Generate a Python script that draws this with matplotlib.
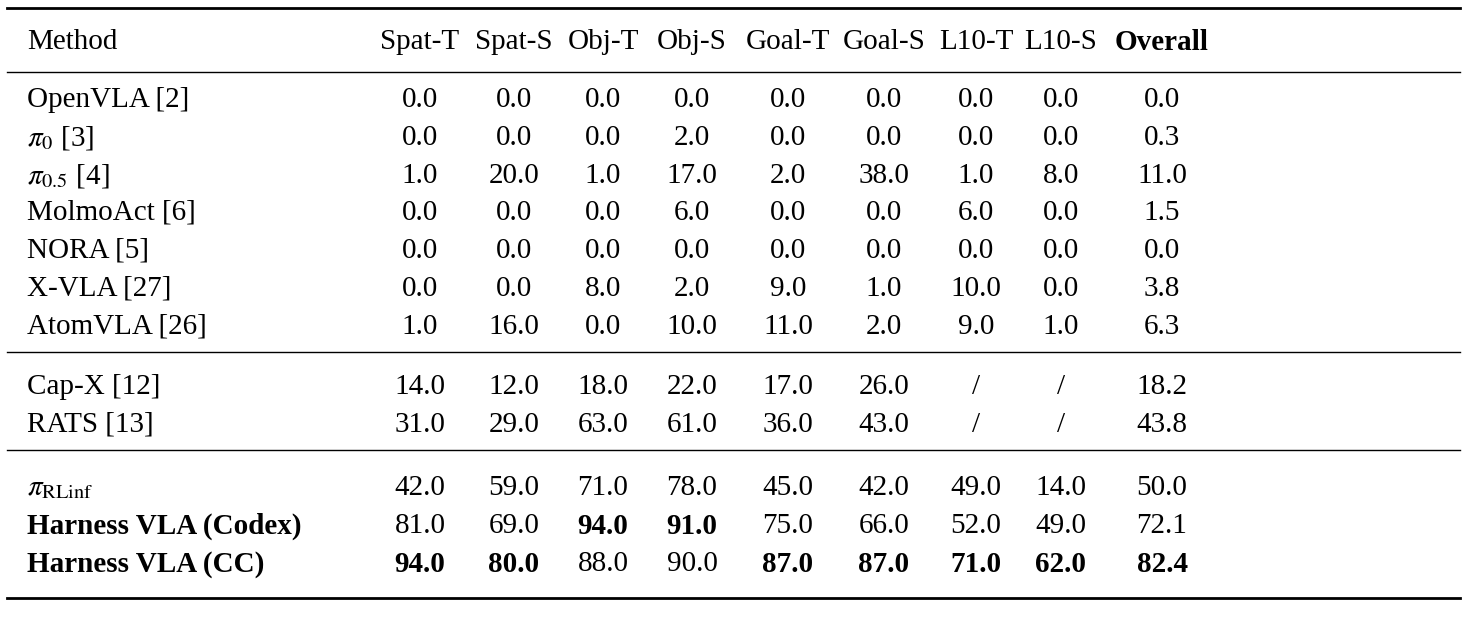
import matplotlib
matplotlib.use("Agg")
import matplotlib.pyplot as plt

plt.rcParams['font.family'] = ['Liberation Serif', 'DejaVu Serif']
plt.rcParams['mathtext.fontset'] = 'stix'

columns = ["Spat-T", "Spat-S", "Obj-T", "Obj-S", "Goal-T", "Goal-S", "L10-T", "L10-S", "Overall"]
methods = ["OpenVLA [2]", r"$\pi_0$ [3]", r"$\pi_{0.5}$ [4]", "MolmoAct [6]", "NORA [5]", "X-VLA [27]", "AtomVLA [26]",
           "Cap-X [12]", "RATS [13]",
           r"$\pi_{\mathrm{RLinf}}$", "Harness VLA (Codex)", "Harness VLA (CC)"]
values = [
    ["0.0", "0.0", "0.0", "0.0", "0.0", "0.0", "0.0", "0.0", "0.0"],
    ["0.0", "0.0", "0.0", "2.0", "0.0", "0.0", "0.0", "0.0", "0.3"],
    ["1.0", "20.0", "1.0", "17.0", "2.0", "38.0", "1.0", "8.0", "11.0"],
    ["0.0", "0.0", "0.0", "6.0", "0.0", "0.0", "6.0", "0.0", "1.5"],
    ["0.0", "0.0", "0.0", "0.0", "0.0", "0.0", "0.0", "0.0", "0.0"],
    ["0.0", "0.0", "8.0", "2.0", "9.0", "1.0", "10.0", "0.0", "3.8"],
    ["1.0", "16.0", "0.0", "10.0", "11.0", "2.0", "9.0", "1.0", "6.3"],
    ["14.0", "12.0", "18.0", "22.0", "17.0", "26.0", "/", "/", "18.2"],
    ["31.0", "29.0", "63.0", "61.0", "36.0", "43.0", "/", "/", "43.8"],
    ["42.0", "59.0", "71.0", "78.0", "45.0", "42.0", "49.0", "14.0", "50.0"],
    ["81.0", "69.0", "94.0", "91.0", "75.0", "66.0", "52.0", "49.0", "72.1"],
    ["94.0", "80.0", "88.0", "90.0", "87.0", "87.0", "71.0", "62.0", "82.4"],
]
bold_cells = {(10, 2), (10, 3), (11, 0), (11, 1), (11, 4), (11, 5), (11, 6), (11, 7), (11, 8)}
bold_methods = {10, 11}

W, H = 1467, 636
fig = plt.figure(figsize=(W / 100, H / 100), dpi=100)
ax = fig.add_axes([0, 0, 1, 1])
ax.set_xlim(0, W)
ax.set_ylim(H, 0)
ax.axis('off')

col_x = [420, 514, 603, 692, 788, 884, 976, 1061, 1162]
row_y = [100, 138, 176, 213, 251, 289, 327, 387, 425, 488, 526, 564]
fs = 21

ax.text(27, 42, "Method", fontsize=fs, va='center', ha='left')
for j, c in enumerate(columns):
    ax.text(col_x[j], 42, c, fontsize=fs, va='center', ha='center',
            fontweight='bold' if c == "Overall" else 'normal')

for i, m in enumerate(methods):
    ax.text(27, row_y[i], m, fontsize=fs, va='center', ha='left',
            fontweight='bold' if i in bold_methods else 'normal')
    for j, v in enumerate(values[i]):
        ax.text(col_x[j], row_y[i], v, fontsize=fs, va='center', ha='center',
                fontweight='bold' if (i, j) in bold_cells else 'normal')

for y, lw in [(8, 2.0), (72, 1.0), (352, 1.0), (450, 1.0), (598, 2.0)]:
    ax.plot([7, 1460], [y, y], color='black', lw=lw)

fig.savefig("out.png", dpi=100)
